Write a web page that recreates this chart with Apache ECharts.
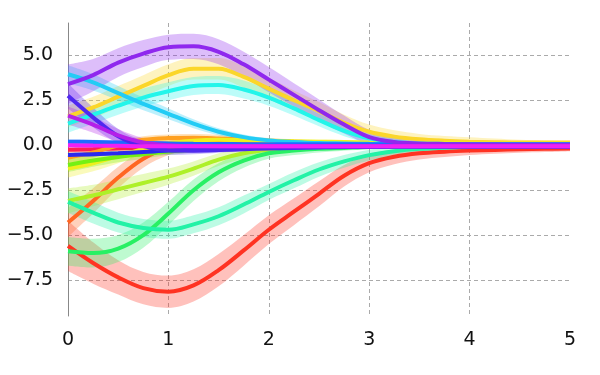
<!DOCTYPE html>
<html>
<head>
<meta charset="utf-8">
<script src="https://cdn.jsdelivr.net/npm/echarts@6/dist/echarts.min.js"></script>
<style>
html,body{margin:0;padding:0;background:#fff}
#chart{width:600px;height:375px}
</style>
</head>
<body>
<div id="chart"></div>
<script>
// x samples, every 0.25
var xs = ['0', '0.25', '0.5', '0.75', '1', '1.25', '1.5', '1.75', '2', '2.25', '2.5',
          '2.75', '3', '3.25', '3.5', '3.75', '4', '4.25', '4.5', '4.75', '5'];
var yTicks = [-7.5, -5, -2.5, 0, 2.5, 5];

// mean curves + half width of the shaded band
var crimson = [-0.25, -0.22, -0.18, -0.15, -0.12, -0.1, -0.08, -0.07, -0.06, -0.05, -0.05,
               -0.05, -0.05, -0.05, -0.05, -0.05, -0.05, -0.05, -0.05, -0.05, -0.05];
var crimsonBand = [0.12, 0.12, 0.1, 0.1, 0.1, 0.1, 0.1, 0.1, 0.1, 0.1, 0.1,
                   0.1, 0.1, 0.1, 0.1, 0.1, 0.1, 0.1, 0.1, 0.1, 0.1];
var red = [-5.6, -6.55, -7.35, -7.95, -8.15, -7.8, -6.95, -5.85, -4.7, -3.7, -2.7,
           -1.7, -1.0, -0.64, -0.45, -0.36, -0.3, -0.26, -0.22, -0.2, -0.18];
var redBand = [1.4, 1.15, 0.95, 0.9, 0.9, 0.9, 0.9, 0.85, 0.8, 0.75, 0.7,
               0.6, 0.5, 0.42, 0.35, 0.3, 0.25, 0.22, 0.2, 0.18, 0.15];
var orangeRed = [-4.3, -3.1, -1.8, -0.75, -0.15, 0.1, 0.12, 0.1, 0.08, 0.05, 0.03,
                 0.02, 0.02, 0.01, 0.01, 0, 0, 0, 0, 0, 0];
var orangeRedBand = [0.8, 0.7, 0.6, 0.5, 0.4, 0.3, 0.25, 0.2, 0.15, 0.12, 0.1,
                     0.1, 0.1, 0.1, 0.1, 0.1, 0.1, 0.1, 0.1, 0.1, 0.1];
var orange = [-0.7, -0.4, 0.0, 0.3, 0.4, 0.42, 0.38, 0.32, 0.25, 0.2, 0.15,
              0.1, 0.08, 0.06, 0.05, 0.04, 0.03, 0.03, 0.03, 0.03, 0.03];
var orangeBand = [0.3, 0.3, 0.25, 0.2, 0.2, 0.2, 0.2, 0.15, 0.15, 0.12, 0.1,
                  0.1, 0.1, 0.1, 0.1, 0.1, 0.1, 0.1, 0.1, 0.1, 0.1];
var gold = [1.6, 2.1, 2.7, 3.3, 3.9, 4.25, 4.25, 3.8, 3.15, 2.5, 1.9,
            1.25, 0.75, 0.48, 0.33, 0.25, 0.2, 0.17, 0.15, 0.15, 0.15];
var goldBand = [0.6, 0.6, 0.6, 0.6, 0.6, 0.6, 0.6, 0.6, 0.6, 0.55, 0.5,
                0.45, 0.4, 0.35, 0.3, 0.27, 0.25, 0.2, 0.15, 0.12, 0.1];
var yellow = [-1.3, -1.0, -0.6, -0.2, 0.1, 0.25, 0.3, 0.28, 0.25, 0.22, 0.2,
              0.18, 0.15, 0.13, 0.12, 0.11, 0.1, 0.1, 0.1, 0.1, 0.1];
var yellowBand = [0.5, 0.45, 0.4, 0.3, 0.25, 0.2, 0.15, 0.12, 0.1, 0.1, 0.1,
                  0.1, 0.1, 0.1, 0.1, 0.1, 0.1, 0.1, 0.1, 0.1, 0.1];
var yellowGreen = [-3.1, -2.8, -2.45, -2.1, -1.75, -1.3, -0.8, -0.45, -0.25, -0.15, -0.1,
                   -0.07, -0.05, -0.04, -0.03, -0.02, -0.02, -0.01, 0, 0, 0];
var yellowGreenBand = [0.7, 0.6, 0.55, 0.5, 0.45, 0.4, 0.35, 0.3, 0.25, 0.2, 0.15,
                       0.1, 0.1, 0.1, 0.1, 0.1, 0.1, 0.1, 0.1, 0.1, 0.1];
var chartreuse = [-1.1, -0.85, -0.65, -0.5, -0.35, -0.25, -0.2, -0.15, -0.1, -0.08, -0.06,
                  -0.05, -0.05, -0.04, -0.04, -0.04, -0.03, -0.03, -0.03, -0.03, -0.03];
var chartreuseBand = [0.4, 0.35, 0.3, 0.25, 0.2, 0.15, 0.12, 0.1, 0.1, 0.1, 0.1,
                      0.1, 0.1, 0.1, 0.1, 0.1, 0.1, 0.1, 0.1, 0.1, 0.1];
var green = [-5.9, -6.0, -5.75, -5.0, -3.8, -2.5, -1.5, -0.85, -0.45, -0.3, -0.2,
             -0.15, -0.1, -0.08, -0.07, -0.06, -0.05, -0.05, -0.05, -0.05, -0.05];
var greenBand = [0.8, 0.8, 0.75, 0.7, 0.65, 0.6, 0.5, 0.4, 0.3, 0.25, 0.2,
                 0.15, 0.12, 0.1, 0.1, 0.1, 0.1, 0.1, 0.1, 0.1, 0.1];
var spring = [-3.15, -3.75, -4.3, -4.6, -4.7, -4.4, -3.95, -3.3, -2.6, -1.95, -1.35,
              -0.9, -0.55, -0.33, -0.2, -0.14, -0.1, -0.07, -0.05, -0.05, -0.05];
var springBand = [0.6, 0.6, 0.55, 0.5, 0.5, 0.5, 0.5, 0.5, 0.45, 0.45, 0.4,
                  0.35, 0.3, 0.25, 0.2, 0.17, 0.15, 0.12, 0.1, 0.1, 0.1];
var cyan = [1.2, 1.7, 2.2, 2.65, 3.0, 3.3, 3.35, 3.1, 2.65, 2.05, 1.4,
            0.8, 0.38, 0.18, 0.1, 0.07, 0.05, 0.05, 0.05, 0.05, 0.05];
var cyanBand = [0.5, 0.5, 0.5, 0.5, 0.5, 0.5, 0.5, 0.5, 0.45, 0.4, 0.35,
                0.3, 0.25, 0.2, 0.15, 0.12, 0.1, 0.1, 0.1, 0.1, 0.1];
var skyBlue = [3.95, 3.5, 2.9, 2.3, 1.75, 1.2, 0.75, 0.45, 0.27, 0.18, 0.12,
               0.1, 0.08, 0.07, 0.06, 0.05, 0.05, 0.05, 0.05, 0.05, 0.05];
var skyBlueBand = [0.5, 0.45, 0.4, 0.35, 0.3, 0.25, 0.2, 0.15, 0.12, 0.1, 0.1,
                   0.1, 0.1, 0.1, 0.1, 0.1, 0.1, 0.1, 0.1, 0.1, 0.1];
var azure = [0.2, 0.18, 0.15, 0.12, 0.1, 0.08, 0.07, 0.06, 0.05, 0.05, 0.05,
             0.05, 0.05, 0.05, 0.05, 0.05, 0.05, 0.05, 0.05, 0.05, 0.05];
var azureBand = [0.12, 0.12, 0.1, 0.1, 0.1, 0.1, 0.1, 0.1, 0.1, 0.1, 0.1,
                 0.1, 0.1, 0.1, 0.1, 0.1, 0.1, 0.1, 0.1, 0.1, 0.1];
var darkBlue = [-0.55, -0.5, -0.45, -0.38, -0.3, -0.25, -0.2, -0.15, -0.12, -0.1, -0.08,
                -0.07, -0.06, -0.05, -0.05, -0.05, -0.05, -0.05, -0.05, -0.05, -0.05];
var darkBlueBand = [0.12, 0.12, 0.1, 0.1, 0.1, 0.1, 0.1, 0.1, 0.1, 0.1, 0.1,
                    0.1, 0.1, 0.1, 0.1, 0.1, 0.1, 0.1, 0.1, 0.1, 0.1];
var blueViolet = [2.75, 1.55, 0.5, -0.05, -0.28, -0.3, -0.27, -0.22, -0.18, -0.15, -0.12,
                  -0.1, -0.1, -0.09, -0.08, -0.08, -0.08, -0.08, -0.08, -0.08, -0.08];
var blueVioletBand = [0.7, 0.55, 0.4, 0.3, 0.25, 0.2, 0.15, 0.12, 0.1, 0.1, 0.1,
                      0.1, 0.1, 0.1, 0.1, 0.1, 0.1, 0.1, 0.1, 0.1, 0.1];
var violet = [3.4, 3.9, 4.6, 5.1, 5.45, 5.5, 5.2, 4.5, 3.65, 2.8, 1.95,
              1.15, 0.45, 0.18, 0.1, 0.07, 0.05, 0.04, 0.03, 0.03, 0.03];
var violetBand = [1.1, 0.9, 0.8, 0.75, 0.7, 0.7, 0.7, 0.7, 0.7, 0.65, 0.6,
                  0.5, 0.4, 0.32, 0.25, 0.2, 0.15, 0.12, 0.1, 0.1, 0.1];
var purple = [1.65, 1.15, 0.55, 0.15, 0.0, -0.05, -0.05, -0.05, -0.05, -0.05, -0.05,
              -0.05, -0.05, -0.05, -0.05, -0.05, -0.05, -0.05, -0.05, -0.05, -0.05];
var purpleBand = [0.5, 0.45, 0.35, 0.25, 0.2, 0.15, 0.12, 0.1, 0.1, 0.1, 0.1,
                  0.1, 0.1, 0.1, 0.1, 0.1, 0.1, 0.1, 0.1, 0.1, 0.1];
var magenta = [0.0, -0.02, -0.03, -0.05, -0.05, -0.05, -0.05, -0.05, -0.05, -0.05, -0.05,
               -0.05, -0.05, -0.05, -0.05, -0.05, -0.05, -0.05, -0.05, -0.05, -0.05];
var magentaBand = [0.12, 0.12, 0.1, 0.1, 0.1, 0.1, 0.1, 0.1, 0.1, 0.1, 0.1,
                   0.1, 0.1, 0.1, 0.1, 0.1, 0.1, 0.1, 0.1, 0.1, 0.1];

var curves = [
    {mean: crimson, band: crimsonBand, color: '#ff2050'},
    {mean: red, band: redBand, color: '#ff3322'},
    {mean: orangeRed, band: orangeRedBand, color: '#ff6622'},
    {mean: orange, band: orangeBand, color: '#ffa020'},
    {mean: gold, band: goldBand, color: '#fbd62a'},
    {mean: yellow, band: yellowBand, color: '#eef01e'},
    {mean: yellowGreen, band: yellowGreenBand, color: '#aef028'},
    {mean: chartreuse, band: chartreuseBand, color: '#74f014'},
    {mean: green, band: greenBand, color: '#28f064'},
    {mean: spring, band: springBand, color: '#22f2a6'},
    {mean: cyan, band: cyanBand, color: '#22f5ea'},
    {mean: skyBlue, band: skyBlueBand, color: '#22ccf5'},
    {mean: azure, band: azureBand, color: '#1e6cff'},
    {mean: darkBlue, band: darkBlueBand, color: '#2a2aee'},
    {mean: blueViolet, band: blueVioletBand, color: '#5028f0'},
    {mean: violet, band: violetBand, color: '#8f28ee'},
    {mean: purple, band: purpleBand, color: '#b420e8'},
    {mean: magenta, band: magentaBand, color: '#f020f5'}
];

function fade(hex, a) {
    var n = parseInt(hex.slice(1), 16);
    return 'rgba(' + (n >> 16) + ',' + ((n >> 8) & 255) + ',' + (n & 255) + ',' + a + ')';
}

var bandSeries = [];
var lineSeries = [];
curves.forEach(function (c, i) {
    var lower = [], width = [];
    for (var k = 0; k < xs.length; k++) {
        lower.push(c.mean[k] - c.band[k]);
        width.push(2 * c.band[k]);
    }
    // band = invisible lower edge + stacked width filled
    bandSeries.push({
        type: 'line', data: lower, stack: 'b' + i, stackStrategy: 'all',
        smooth: 0.35, symbol: 'none', silent: true,
        lineStyle: {opacity: 0}
    });
    bandSeries.push({
        type: 'line', data: width, stack: 'b' + i, stackStrategy: 'all',
        smooth: 0.35, symbol: 'none', silent: true,
        lineStyle: {opacity: 0},
        areaStyle: {color: fade(c.color, 0.3), opacity: 1}
    });
    lineSeries.push({
        type: 'line', data: c.mean, smooth: 0.35, symbol: 'none', silent: true,
        lineStyle: {color: c.color, width: 4}
    });
});

var chart = echarts.init(document.getElementById('chart'));
var option = {
    animation: false,
    grid: {left: 68, right: 30, top: 23, bottom: 59},
    xAxis: {
        type: 'category', data: xs, boundaryGap: false,
        axisLine: {show: false},
        axisTick: {show: false},
        axisLabel: {
            color: '#111', fontSize: 19, fontFamily: 'DejaVu Sans', margin: 15,
            interval: function (idx) { return idx % 4 === 0; }
        },
        splitLine: {
            show: true,
            interval: function (idx) { return idx % 4 === 0 && idx > 0 && idx < 20; },
            lineStyle: {color: '#aaa', type: [4, 3], width: 1}
        }
    },
    yAxis: {
        type: 'value', min: -9.5, max: 6.8,
        axisLine: {show: true, onZero: false, lineStyle: {color: '#888', width: 1}},
        axisTick: {show: false, customValues: yTicks},
        axisLabel: {
            color: '#111', fontSize: 19, fontFamily: 'DejaVu Sans', margin: 15,
            customValues: yTicks,
            formatter: function (v) { return v.toFixed(1).replace('-', '\u2212'); }
        },
        splitLine: {show: true, lineStyle: {color: '#aaa', type: [4, 3], width: 1}}
    },
    series: bandSeries.concat(lineSeries)
};
chart.setOption(option);
</script>
</body>
</html>
